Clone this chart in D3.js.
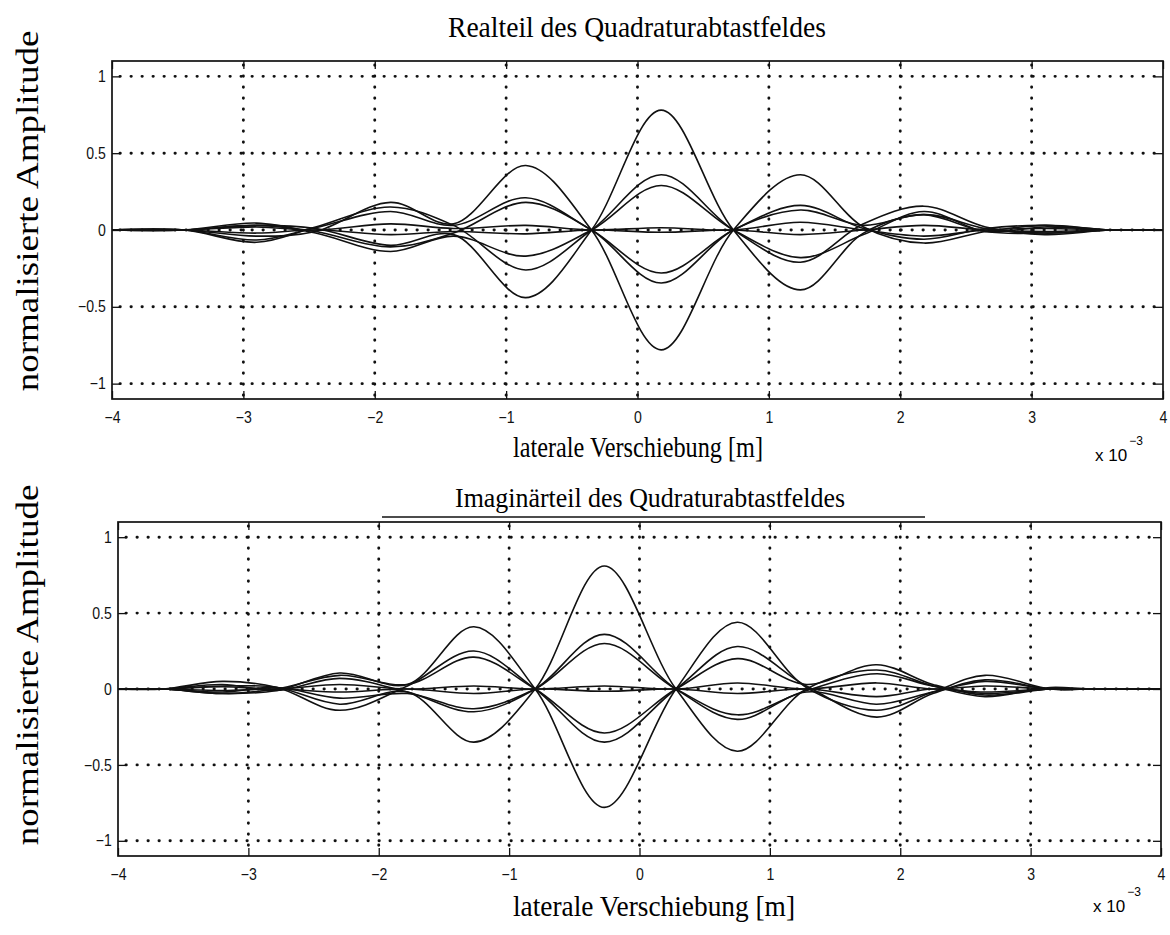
<!DOCTYPE html>
<html>
<head>
<meta charset="utf-8">
<script src="https://cdn.jsdelivr.net/npm/d3@7"></script>
<style>
  body { margin: 0; background: #fff; }
  .tick text { font-family: "Liberation Sans", Arial, sans-serif; font-size: 16px; fill: #111; }
  .tick line { stroke: #111; stroke-width: 1.3; }
</style>
</head>
<body>
<div id="chart"></div>
<script>
var realKnots = [-4, -3.45, -2.9, -2.45, -1.88, -1.40, -0.85, -0.35, 0.18, 0.73, 1.24, 1.72, 2.18, 2.65, 3.1, 3.6, 4];
var realSeries = [
  [0, 0, 0.03, 0.01, -0.10, -0.03, -0.44, 0, 0.78, 0, -0.39, -0.02, 0.10, 0.01, -0.02, 0, 0],
  [0, 0, -0.04, -0.01, 0.18, 0.04, 0.42, 0, -0.78, 0, 0.36, 0.02, -0.085, -0.01, 0.03, 0, 0],
  [0, 0, -0.08, 0.02, 0.15, 0.03, -0.26, 0, 0.36, 0, -0.21, 0.04, 0.155, 0.02, -0.03, 0, 0],
  [0, 0, 0.045, -0.02, -0.14, -0.04, -0.17, 0, 0.29, 0, -0.18, -0.03, 0.12, -0.01, 0.02, 0, 0],
  [0, 0, -0.065, 0.015, 0.12, 0.03, 0.21, 0, -0.28, 0, 0.16, 0.01, -0.06, 0.01, 0.03, 0, 0],
  [0, 0, 0.03, -0.01, -0.11, -0.02, 0.18, 0, -0.345, 0, 0.13, 0.03, 0.10, -0.01, -0.02, 0, 0],
  [0, 0, 0.02, 0, 0.04, 0.01, 0.03, 0, 0.015, 0, 0.05, 0, -0.04, 0, 0.01, 0, 0],
  [0, 0, -0.02, 0, -0.03, -0.01, -0.025, 0, -0.015, 0, -0.03, 0, 0.03, 0, -0.01, 0, 0]
];

// imaginary part
var imagKnots = [-4, -3.65, -3.2, -2.78, -2.3, -1.78, -1.27, -0.80, -0.27, 0.28, 0.75, 1.28, 1.82, 2.25, 2.65, 3.15, 3.45, 4];
var imagSeries = [
  [0, 0, 0.02, 0.01, -0.10, -0.02, -0.35, 0, 0.81, 0, -0.41, 0, 0.125, 0.02, -0.05, 0.01, 0, 0],
  [0, 0, -0.03, -0.01, 0.105, 0.03, 0.41, 0, -0.78, 0, 0.44, 0.01, -0.14, -0.02, 0.09, 0, 0, 0],
  [0, 0, 0.05, 0.01, -0.14, 0.02, 0.25, 0, -0.35, 0, 0.28, 0.02, -0.185, -0.03, 0.06, 0, 0, 0],
  [0, 0, -0.03, 0, 0.09, 0.03, 0.21, 0, -0.29, 0, 0.20, 0.03, 0.16, 0.03, -0.04, 0, 0, 0],
  [0, 0, 0.03, -0.01, 0.07, -0.02, -0.15, 0, 0.36, 0, -0.20, -0.02, -0.10, -0.02, 0.05, 0, 0, 0],
  [0, 0, -0.02, 0.01, -0.06, -0.03, -0.13, 0, 0.30, 0, -0.17, -0.01, 0.10, 0.02, -0.03, 0, 0, 0],
  [0, 0, 0.015, 0, 0.03, 0, 0.02, 0, 0.02, 0, 0.04, 0, 0.04, 0, 0.02, 0, 0, 0],
  [0, 0, -0.01, 0, -0.02, 0, -0.03, 0, -0.015, 0, -0.03, 0, -0.05, 0, -0.02, 0, 0, 0]
];

var xTicks = [-4, -3, -2, -1, 0, 1, 2, 3, 4];
var yTicks = [-1, -0.5, 0, 0.5, 1];
var titles = ["Realteil des Quadraturabtastfeldes", "Imaginärteil des Qudraturabtastfeldes"];
var xLabel = "laterale Verschiebung [m]";
var yLabel = "normalisierte Amplitude";

var svg = d3.select("#chart").append("svg")
    .attr("width", 1170).attr("height", 935)
    .style("background", "#fff");

var serif = "'Liberation Serif', 'Times New Roman', serif";
var sans = "'Liberation Sans', Arial, sans-serif";

function fmt(d) {
    return String(d).replace("-", "\u2212");
}

// the scan is a bit squeezed sideways, so text gets a fixed length
function label(g, txt, cx, cy, size, len) {
    return g.append("text").attr("x", cx).attr("y", cy)
        .attr("text-anchor", "middle")
        .attr("textLength", len).attr("lengthAdjust", "spacingAndGlyphs")
        .style("font-family", serif).style("font-size", size + "px")
        .text(txt);
}

function drawPanel(knots, series, title, box) {
    var x = d3.scaleLinear().domain([-4, 4]).range([box.left, box.right]);
    var y = d3.scaleLinear().domain([-1.1, 1.1]).range([box.bottom, box.top]);
    var g = svg.append("g");

    // dotted grid
    g.selectAll(".gx").data(xTicks.slice(1, -1)).enter().append("line")
        .attr("x1", function(d) { return x(d); }).attr("x2", function(d) { return x(d); })
        .attr("y1", box.top + 4).attr("y2", box.bottom - 2)
        .attr("stroke", "#111").attr("stroke-width", 2.9)
        .attr("stroke-linecap", "round").attr("stroke-dasharray", "0.3,10.7");
    g.selectAll(".gy").data(yTicks).enter().append("line")
        .attr("y1", function(d) { return y(d); }).attr("y2", function(d) { return y(d); })
        .attr("x1", box.left + 8).attr("x2", box.right - 2)
        .attr("stroke", "#111").attr("stroke-width", 2.9)
        .attr("stroke-linecap", "round").attr("stroke-dasharray", "0.3,10.7");

    // axes with inward ticks
    g.append("g").attr("transform", "translate(0," + box.bottom + ")")
        .call(d3.axisBottom(x).tickValues(xTicks).tickSizeInner(-8).tickSizeOuter(0).tickPadding(13).tickFormat(fmt))
        .call(function(a) { a.select(".domain").remove(); a.selectAll("text").attr("transform", "scale(0.88,1)"); });
    g.append("g").attr("transform", "translate(0," + box.top + ")")
        .call(d3.axisTop(x).tickValues(xTicks).tickSizeInner(-8).tickSizeOuter(0).tickFormat(""))
        .call(function(a) { a.select(".domain").remove(); });
    g.append("g").attr("transform", "translate(" + box.left + ",0)")
        .call(d3.axisLeft(y).tickValues(yTicks).tickSizeInner(-8).tickSizeOuter(0).tickPadding(7).tickFormat(fmt))
        .call(function(a) { a.select(".domain").remove(); a.selectAll("text").attr("transform", "scale(0.88,1)"); });
    g.append("g").attr("transform", "translate(" + box.right + ",0)")
        .call(d3.axisRight(y).tickValues(yTicks).tickSizeInner(-8).tickSizeOuter(0).tickFormat(""))
        .call(function(a) { a.select(".domain").remove(); });

    // curves
    var line = d3.line()
        .x(function(d) { return x(d[0]); })
        .y(function(d) { return y(d[1]); })
        .curve(d3.curveCatmullRom.alpha(0.5));
    g.selectAll(".curve").data(series).enter().append("path")
        .attr("d", function(vals) { return line(vals.map(function(v, i) { return [knots[i], v]; })); })
        .attr("fill", "none").attr("stroke", "#111").attr("stroke-width", 1.6);

    // frame
    g.append("rect")
        .attr("x", box.left).attr("y", box.top)
        .attr("width", box.right - box.left).attr("height", box.bottom - box.top)
        .attr("fill", "none").attr("stroke", "#111").attr("stroke-width", 1.7);

    // texts
    label(g, title.text, title.cx, title.y, title.size, title.len);
    label(g, xLabel, box.xl.cx, box.bottom + box.xl.dy, 29, box.xl.len);

    var sc = g.append("text").attr("x", box.right - 68).attr("y", box.bottom + box.expDy)
        .style("font-family", sans).style("font-size", "17px");
    sc.append("tspan").text("x 10");
    sc.append("tspan").attr("dy", -16).attr("dx", 2).style("font-size", "12px").text("\u22123");

    g.append("text")
        .attr("transform", "translate(38," + ((box.top + box.bottom) / 2 + box.ylShift) + ") scale(0.86,1) rotate(-90)")
        .attr("text-anchor", "middle")
        .style("font-family", serif).style("font-size", "37px")
        .text(yLabel);
    return g;
}

drawPanel(realKnots, realSeries,
    {text: titles[0], cx: 637, y: 37, size: 29, len: 378},
    {left: 112, right: 1163, top: 61, bottom: 399, ylShift: -19, expDy: 62,
     xl: {cx: 638, dy: 58, len: 250}});
drawPanel(imagKnots, imagSeries,
    {text: titles[1], cx: 650, y: 507, size: 27, len: 390},
    {left: 118, right: 1161, top: 522, bottom: 856, ylShift: -24, expDy: 56,
     xl: {cx: 654, dy: 60, len: 282}});

// scanned overline above the second panel
svg.append("line").attr("x1", 382).attr("x2", 925).attr("y1", 517).attr("y2", 517)
    .attr("stroke", "#111").attr("stroke-width", 1.6);
</script>
</body>
</html>
